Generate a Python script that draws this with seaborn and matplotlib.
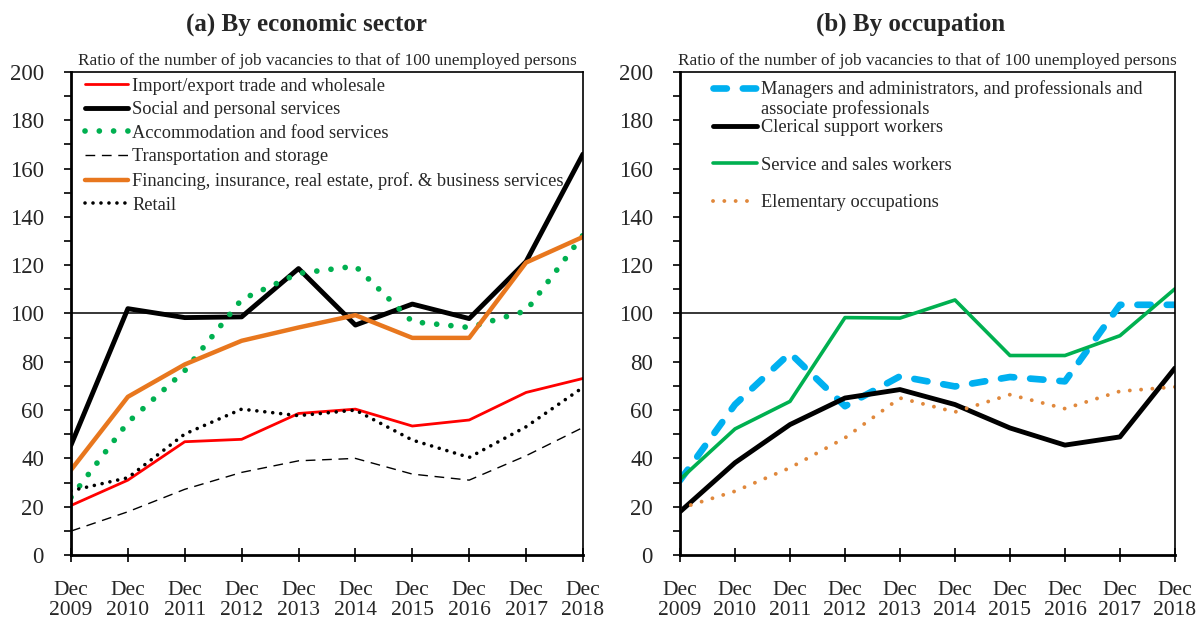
import matplotlib
matplotlib.use("Agg")
import matplotlib.pyplot as plt
from matplotlib.ticker import MultipleLocator
from matplotlib.transforms import IdentityTransform
import seaborn as sns
import pandas as pd

sns.set_theme(style="white")
plt.rcParams["font.family"] = ["Liberation Serif", "DejaVu Serif"]

years = [2009, 2010, 2011, 2012, 2013, 2014, 2015, 2016, 2017, 2018]
tick_labels = [f"Dec\n{y}" for y in years]

# (a) by economic sector
import_export = [20.5, 31.0, 46.9, 47.9, 58.6, 60.4, 53.4, 55.9, 67.3, 73.1]
social_personal = [45.5, 102.0, 98.3, 98.6, 118.6, 95.2, 103.9, 97.9, 121.5, 166.0]
accommodation_food = [23.9, 54.9, 76.3, 105.8, 116.6, 119.6, 96.6, 94.2, 101.1, 132.4]
transport_storage = [9.9, 17.9, 27.2, 34.2, 39.0, 40.0, 33.5, 31.0, 41.1, 52.8]
financing_business = [35.2, 65.5, 78.9, 88.7, 94.2, 99.3, 89.9, 89.9, 121.1, 131.7]
retail = [26.6, 32.0, 50.1, 60.4, 57.7, 60.0, 47.6, 40.4, 53.1, 69.4]

# (b) by occupation
managers_prof = [30.9, 62.3, 83.6, 61.6, 74.0, 69.8, 73.7, 71.9, 103.6, 103.6]
clerical = [17.9, 38.2, 54.0, 65.0, 68.5, 62.3, 52.6, 45.5, 48.9, 77.4]
service_sales = [31.3, 52.2, 63.6, 98.3, 98.1, 105.6, 82.6, 82.6, 90.8, 110.2]
elementary = [19.3, 26.4, 36.1, 48.5, 65.0, 59.2, 66.4, 60.6, 67.8, 69.6]

managers_line1 = "Managers and administrators, and professionals and"
managers_line2 = "associate professionals"

sector_series = [
    ("Import/export trade and wholesale", import_export,
     dict(color="#FF0000", lw=2.0, ls="-")),
    ("Social and personal services", social_personal,
     dict(color="black", lw=3.5, ls="-")),
    ("Accommodation and food services", accommodation_food,
     dict(color="#00B050", lw=4.1, ls=(0, (0.01, 2.5)), dash_capstyle="round")),
    ("Transportation and storage", transport_storage,
     dict(color="black", lw=1.0, ls=(0, (7, 4.8)))),
    ("Financing, insurance, real estate, prof. & business services", financing_business,
     dict(color="#E8771E", lw=3.2, ls="-")),
    ("Retail", retail,
     dict(color="black", lw=2.6, ls=(0, (0.01, 2.2)), dash_capstyle="round")),
]

occupation_series = [
    (managers_line1, managers_prof,
     dict(color="#00B0F0", lw=4.8, ls=(0, (2.0, 2.4)), dash_capstyle="round")),
    ("Clerical support workers", clerical,
     dict(color="black", lw=3.5, ls="-")),
    ("Service and sales workers", service_sales,
     dict(color="#00B050", lw=2.6, ls="-")),
    ("Elementary occupations", elementary,
     dict(color="#E0883C", lw=2.8, ls=(0, (0.01, 2.9)), dash_capstyle="round")),
]

fig = plt.figure(figsize=(12.01, 6.19), dpi=100)
ax_a = fig.add_axes([0.0591, 0.1034, 0.4263, 0.7803])
ax_b = fig.add_axes([0.5662, 0.1034, 0.4121, 0.7803])


def draw_panel(ax, series):
    for label, values, style in series:
        df = pd.DataFrame({"year": years, "ratio": values})
        style = dict(style)
        ls = style.pop("ls")
        sns.lineplot(data=df, x="year", y="ratio", ax=ax, label=label,
                     linestyle=ls, **style)
    ax.axhline(100, color="black", lw=1.1, zorder=1)
    ax.set_xlim(years[0], years[-1])
    ax.set_ylim(0, 200)
    ax.set_xlabel("")
    ax.set_ylabel("")
    ax.set_xticks(years)
    ax.set_xticklabels(tick_labels, fontsize=15.5, linespacing=1.05)
    ax.yaxis.set_major_locator(MultipleLocator(20))
    ax.yaxis.set_minor_locator(MultipleLocator(10))
    ax.tick_params(axis="y", which="both", direction="out", left=True,
                   labelsize=16.5, pad=14.5, width=1.2, length=5, color="black")
    ax.tick_params(axis="x", which="major", direction="inout", bottom=True,
                   length=10, width=1.2, pad=14, color="black")
    for side in ["left", "bottom"]:
        ax.spines[side].set_linewidth(2.0)
        ax.spines[side].set_color("black")
    for side in ["top", "right"]:
        ax.spines[side].set_linewidth(1.2)
        ax.spines[side].set_color("black")
    ax.text(0.5, 1.006, "Ratio of the number of job vacancies to that of 100 unemployed persons",
            transform=ax.transAxes, ha="center", va="bottom", fontsize=12.4)


draw_panel(ax_a, sector_series)
draw_panel(ax_b, occupation_series)

ax_a.legend(loc="upper left", bbox_to_anchor=(0.006, 1.011), frameon=False,
            fontsize=13.2, handlelength=2.35, handletextpad=0.22,
            labelspacing=0.36, borderaxespad=0.2)
leg_b = ax_b.legend(loc="upper left", bbox_to_anchor=(0.044, 1.005), frameon=False,
                    fontsize=13.2, handlelength=2.4, handletextpad=0.22,
                    labelspacing=1.12, borderaxespad=0.2)

# Second line of the long occupation label, set just under its first line
fig.canvas.draw()
first_text = leg_b.get_texts()[0]
bb = first_text.get_window_extent(renderer=fig.canvas.get_renderer())
fig.text(bb.x0, bb.y0 - 2, managers_line2, transform=IdentityTransform(),
         ha="left", va="top", fontsize=13.2)

fig.text(306 / 1201, 1 - 24 / 619, "(a) By economic sector", ha="center", va="center",
         fontsize=18, fontweight="bold")
fig.text(911 / 1201, 1 - 24 / 619, "(b) By occupation", ha="center", va="center",
         fontsize=18, fontweight="bold")

fig.savefig("out.png", dpi=100)
